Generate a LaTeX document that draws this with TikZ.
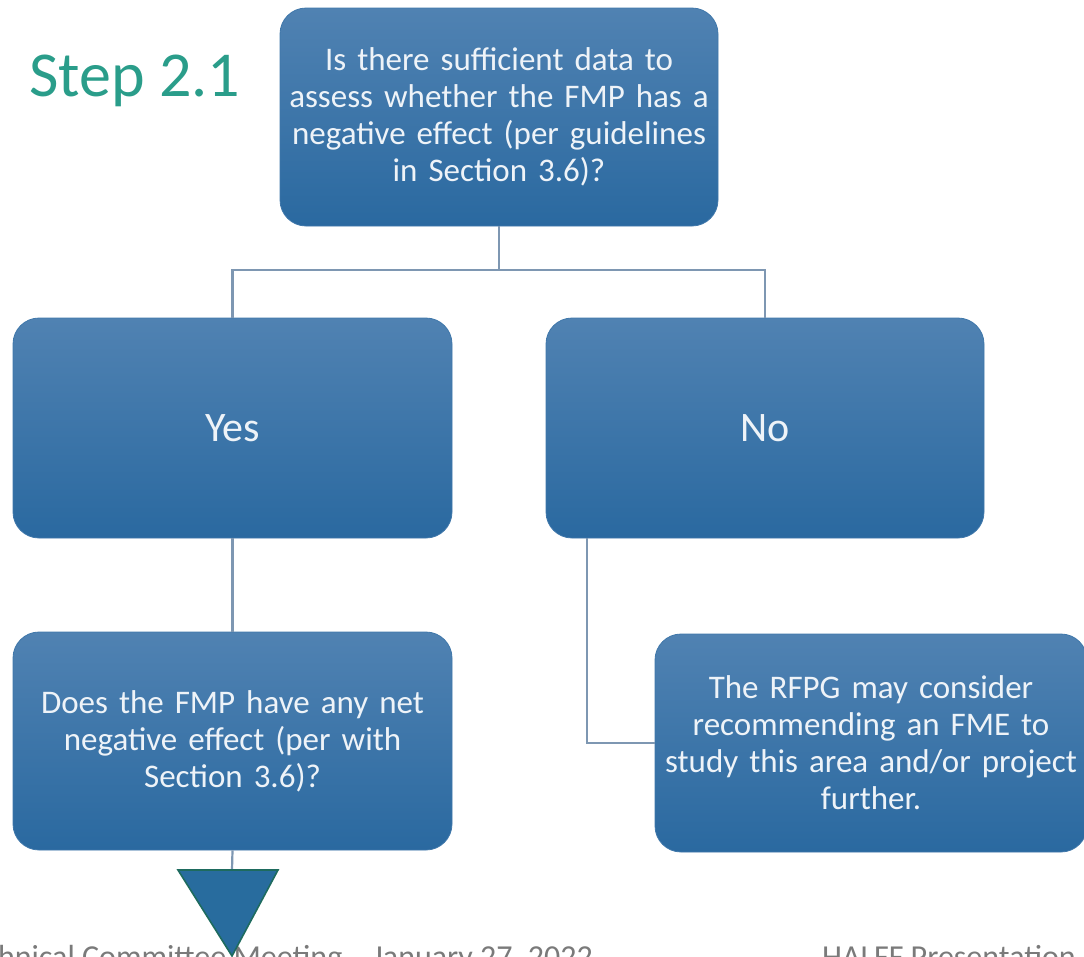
\documentclass[tikz,border=0pt]{standalone}
\usepackage{fontspec}
\setmainfont{Carlito}
\definecolor{boxtop}{HTML}{5082B2}
\definecolor{boxbot}{HTML}{2A69A0}
\definecolor{boxedge}{HTML}{3F77AA}
\definecolor{linecol}{HTML}{7E97B2}
\definecolor{txtcol}{HTML}{EEF3F8}
\definecolor{stepcol}{HTML}{2A9D8A}
\definecolor{footcol}{HTML}{7A7A7A}
\definecolor{trifill}{HTML}{286C9E}
\definecolor{triedge}{HTML}{1E6B5E}
\tikzset{
  fbox/.style={rounded corners=26pt, top color=boxtop, bottom color=boxbot, draw=boxedge, line width=0.8pt,
    minimum height=218pt, align=center, text=txtcol, font=\fontsize{33}{37}\selectfont, inner sep=0pt},
  bigtxt/.style={font=\fontsize{42}{48}\selectfont},
  conn/.style={draw=linecol, line width=2.2pt},
  foot/.style={text=footcol, font=\fontsize{32}{38}\selectfont, inner sep=0pt},
}
\begin{document}
\begin{tikzpicture}[x=1pt,y=-1pt]
\useasboundingbox (0,0) rectangle (1084,956);
\clip (0,0) rectangle (1084,956);
\node[fbox, minimum width=438pt, text width=430pt] (q) at (499,117) {Is there sufficient data to\\assess whether the FMP has a\\negative effect (per guidelines\\in Section 3.6)?};
\node[fbox, bigtxt, minimum width=439pt, minimum height=220pt, text width=420pt] (yes) at (232.5,428) {Yes};
\node[fbox, bigtxt, minimum width=438pt, minimum height=220pt, text width=420pt] (no) at (765,428) {No};
\node[fbox, minimum width=439pt, text width=430pt] (net) at (232.5,741) {Does the FMP have any net\\negative effect (per with\\Section 3.6)?};
\node[fbox, minimum width=432pt, text width=430pt] (rfpg) at (871,743) {The RFPG may consider\\recommending an FME to\\study this area and/or project\\further.};
\node[text=stepcol, font=\fontsize{64}{72}\selectfont, anchor=base west, inner sep=0pt] (step) at (29,96) {Step 2.1};
\coordinate (split) at (499,270);
\coordinate (tri) at (232,870);
\draw[conn] (q.south) -- (split) -| (yes.north);
\draw[conn] (split) -| (no.north);
\draw[conn] (yes.south) -- (net.north);
\draw[conn] (no.south -| 587,0) |- (rfpg.west);
\draw[conn] (net.south) -- (tri);
\node[foot, anchor=base east] (foot1) at (593,967) {Technical Committee Meeting – January 27, 2022};
\node[foot, anchor=base west] (foot2) at (822,967) {HALFF Presentation};
\draw[fill=trifill, draw=triedge, line width=1.6pt, line join=miter] (178,870) -- (278,870) -- (232,956) -- cycle;
\end{tikzpicture}
\end{document}
